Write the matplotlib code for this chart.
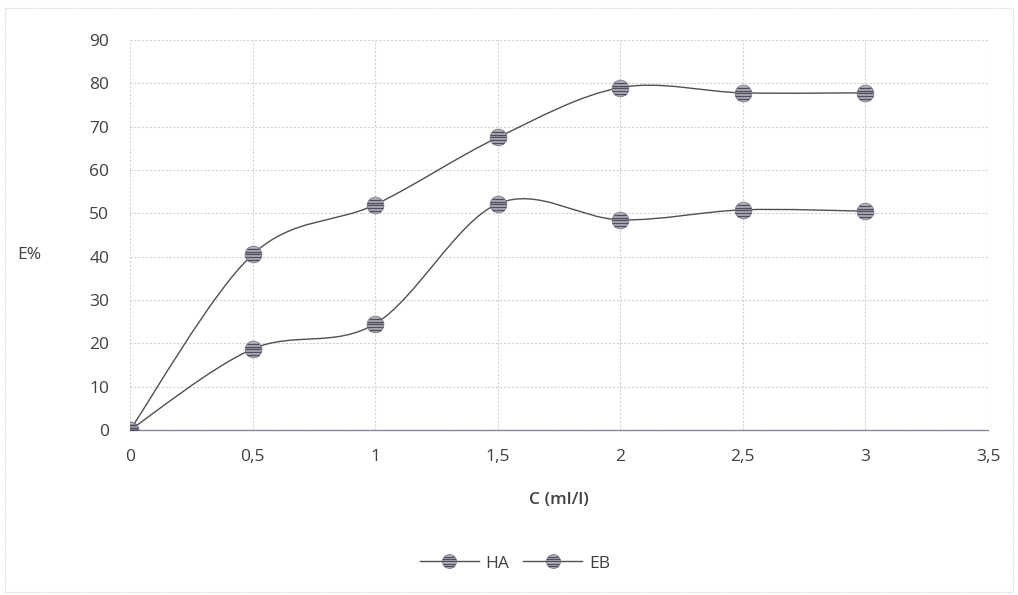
import numpy as np
import matplotlib
matplotlib.use("Agg")
import matplotlib.pyplot as plt
from matplotlib.path import Path
from matplotlib.patches import PathPatch, Rectangle
from matplotlib.lines import Line2D

plt.rcParams['font.family'] = ['Open Sans', 'DejaVu Sans']

concentration = [0, 0.5, 1, 1.5, 2, 2.5, 3]
ha_values = [0, 40.5, 52, 67.5, 79, 77.8, 77.8]
eb_values = [0, 18.7, 24.5, 52.2, 48.5, 50.8, 50.5]
x_ticks = [0, 0.5, 1, 1.5, 2, 2.5, 3, 3.5]
x_tick_labels = ["0", "0,5", "1", "1,5", "2", "2,5", "3", "3,5"]
y_ticks = list(range(0, 91, 10))

LINE = "#505050"
MARK_FACE = "#b4b4bc"
MARK_EDGE = "#7a7a88"
STRIPE = "#4e4e60"
GRID = "#d2d2d2"
TEXT = "#404040"
FS = 12.5


def smooth_path(xs, ys):
    """Cardinal Bezier path through the points (spreadsheet-style smoothing)."""
    pts = np.column_stack([xs, ys]).astype(float)
    n = len(pts)
    verts = [pts[0]]
    codes = [Path.MOVETO]
    t = 1.0 / 6.0
    for i in range(n - 1):
        p0 = pts[i - 1] if i > 0 else pts[i]
        p1 = pts[i]
        p2 = pts[i + 1]
        p3 = pts[i + 2] if i + 2 < n else pts[i + 1]
        c1 = p1 + (p2 - p0) * t
        c2 = p2 - (p3 - p1) * t
        verts += [c1, c2, p2]
        codes += [Path.CURVE4] * 3
    return Path(verts, codes)


def striped_marker():
    """Horizontal chords across a unit circle, drawn on top of the round marker."""
    verts, codes = [], []
    for yy in (-0.75, -0.4, -0.05, 0.3, 0.65):
        half = np.sqrt(1 - yy ** 2) * 1.05
        verts += [(-half, yy), (half, yy)]
        codes += [Path.MOVETO, Path.LINETO]
    return Path(verts, codes)


STRIPES = striped_marker()

fig = plt.figure(figsize=(10.18, 5.95), dpi=100)
ax = fig.add_axes([0.1277, 0.2773, 0.8428, 0.6555])

# outer chart border
fig.patches.append(Rectangle((0.005, 0.005), 0.99, 0.981, transform=fig.transFigure,
                             fill=False, edgecolor="#d4d4d4", linewidth=0.8,
                             linestyle=(0, (1, 1))))

ax.set_xlim(0, 3.5)
ax.set_ylim(0, 90)
ax.set_xticks(x_ticks)
ax.set_xticklabels(x_tick_labels)
ax.set_yticks(y_ticks)
ax.grid(True, color=GRID, linewidth=0.8, linestyle=(0, (2, 1.5)))
ax.set_axisbelow(True)
for side in ("top", "right", "left"):
    ax.spines[side].set_visible(False)
ax.spines["bottom"].set_color("#8a8a9a")
ax.spines["bottom"].set_linewidth(1.0)
ax.tick_params(length=0, labelsize=FS, labelcolor=TEXT)
ax.tick_params(axis="x", pad=14)
ax.tick_params(axis="y", pad=15)

for ys in (ha_values, eb_values):
    ax.add_patch(PathPatch(smooth_path(concentration, ys), fill=False,
                           edgecolor=LINE, linewidth=1.0, zorder=3))
    ax.plot(concentration, ys, linestyle="none", marker="o", markersize=12,
            markerfacecolor=MARK_FACE, markeredgecolor=MARK_EDGE,
            markeredgewidth=0.6, zorder=4)
    ax.plot(concentration, ys, linestyle="none", marker=STRIPES, markersize=12,
            markerfacecolor="none", markeredgecolor=STRIPE,
            markeredgewidth=1.0, zorder=5)

ax.set_xlabel("C (ml/l)", fontsize=FS, color=TEXT, fontweight="semibold", labelpad=19)
fig.text(0.017, 0.571, "E%", fontsize=FS, color=TEXT, ha="left", va="center")

handles = [(Line2D([], [], color=LINE, linewidth=1.0, marker="o", markersize=10,
                   markerfacecolor=MARK_FACE, markeredgecolor=MARK_EDGE,
                   markeredgewidth=0.6),
            Line2D([], [], linestyle="none", marker=STRIPES, markersize=10,
                   markerfacecolor="none", markeredgecolor=STRIPE,
                   markeredgewidth=0.9))
           for _ in range(2)]
fig.legend(handles, ["HA", "EB"], loc="center", bbox_to_anchor=(0.506, 0.053),
           ncol=2, frameon=False, fontsize=FS, labelcolor=TEXT,
           handlelength=3.4, columnspacing=0.8, handletextpad=0.4)

fig.savefig("out.png", dpi=100)
